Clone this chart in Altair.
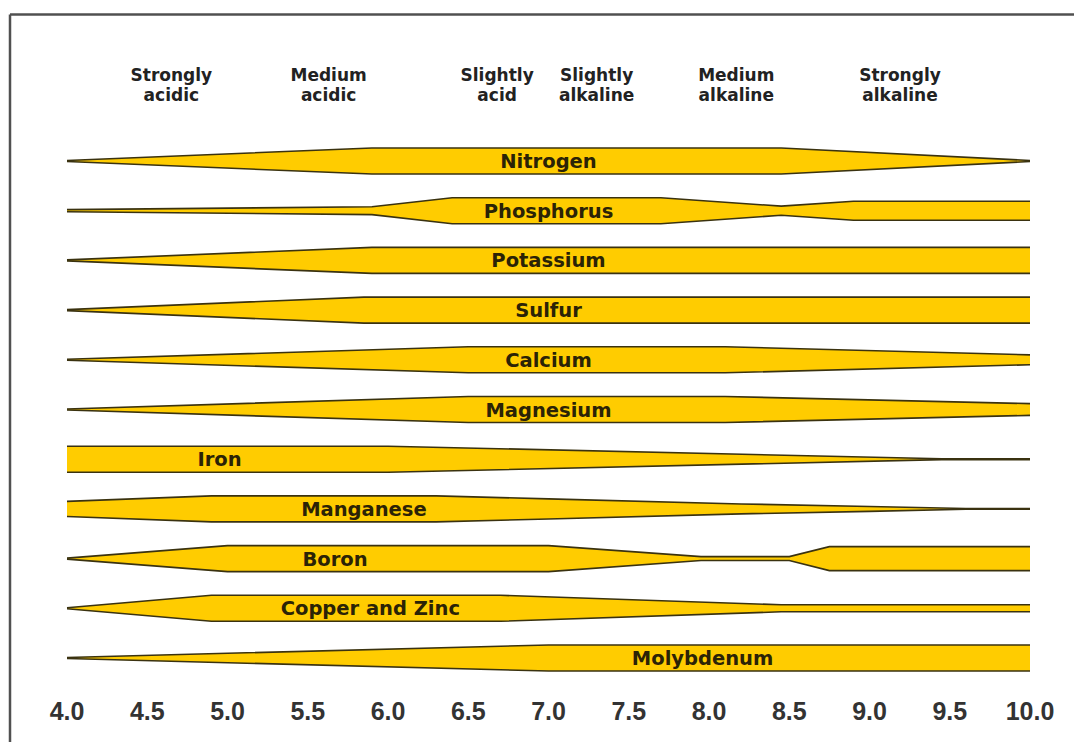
import altair as alt
import pandas as pd

# ---------------- data ----------------
nutrients = ["Nitrogen", "Phosphorus", "Potassium", "Sulfur", "Calcium", "Magnesium",
             "Iron", "Manganese", "Boron", "Copper and Zinc", "Molybdenum"]

# availability profile of each nutrient: pH breakpoints and relative band width (1 = most available)
profile_ph = [
    [4.0, 5.9, 8.45, 10.0],                        # Nitrogen
    [4.0, 5.9, 6.4, 7.7, 8.45, 8.9, 10.0],         # Phosphorus
    [4.0, 5.9, 10.0],                              # Potassium
    [4.0, 5.85, 10.0],                             # Sulfur
    [4.0, 6.5, 8.1, 10.0],                         # Calcium
    [4.0, 6.5, 8.1, 10.0],                         # Magnesium
    [4.0, 6.0, 9.45, 10.0],                        # Iron
    [4.0, 4.9, 6.3, 7.0, 8.2, 9.0, 9.6, 10.0],     # Manganese
    [4.0, 5.0, 7.0, 7.95, 8.5, 8.75, 10.0],        # Boron
    [4.0, 4.9, 6.7, 8.45, 10.0],                   # Copper and Zinc
    [4.0, 7.0, 10.0],                              # Molybdenum
]
profile_w = [
    [0.04, 1.0, 1.0, 0.04],
    [0.08, 0.3, 1.0, 1.0, 0.35, 0.73, 0.73],
    [0.04, 1.0, 1.0],
    [0.04, 1.0, 1.0],
    [0.04, 1.0, 1.0, 0.38],
    [0.04, 1.0, 1.0, 0.45],
    [1.0, 1.0, 0.03, 0.03],
    [0.58, 1.0, 1.0, 0.77, 0.38, 0.19, 0.03, 0.03],
    [0.04, 1.0, 1.0, 0.15, 0.15, 0.92, 0.92],
    [0.04, 1.0, 1.0, 0.27, 0.27],
    [0.04, 1.0, 1.0],
]
label_ph = [7.0, 7.0, 7.0, 7.0, 7.0, 7.0, 4.95, 5.85, 5.67, 5.89, 7.96]

zone_line1 = ["Strongly", "Medium", "Slightly", "Slightly", "Medium", "Strongly"]
zone_line2 = ["acidic", "acidic", "acid", "alkaline", "alkaline", "alkaline"]
zone_ph = [4.65, 5.63, 6.68, 7.3, 8.17, 9.19]

ph_ticks = [4.0, 4.5, 5.0, 5.5, 6.0, 6.5, 7.0, 7.5, 8.0, 8.5, 9.0, 9.5, 10.0]

# ---------------- tables ----------------
HALF = 0.262  # half band thickness in row units at full availability
rows = []
for i, name in enumerate(nutrients):
    for ph, w in zip(profile_ph[i], profile_w[i]):
        rows.append({"nutrient": name, "ph": ph, "lo": i - HALF * w, "hi": i + HALF * w})
bands = pd.DataFrame(rows)
edges = bands.melt(id_vars=["nutrient", "ph"], value_vars=["lo", "hi"],
                   var_name="edge", value_name="yv")
edges["key"] = edges["nutrient"] + "-" + edges["edge"]

labels = pd.DataFrame({"nutrient": nutrients, "ph": label_ph, "row": list(range(len(nutrients)))})
zones = pd.DataFrame({"l1": zone_line1, "l2": zone_line2, "ph": zone_ph})
ticks = pd.DataFrame({"ph": ph_ticks})
dummy = pd.DataFrame({"a": [0]})

W, H = 1066, 734
xs = alt.Scale(domain=[4, 10], range=[59, 1022], zero=False, nice=False)
ys = alt.Scale(domain=[0, 10], range=[153, 650], zero=False, nice=False)

fill = "#FFCC00"
edge_col = "#3a3210"

area = alt.Chart(bands).mark_area(color=fill, opacity=1).encode(
    x=alt.X("ph:Q", scale=xs, axis=None),
    y=alt.Y("lo:Q", scale=ys, axis=None, stack=None),
    y2="hi:Q",
    detail="nutrient:N",
)

lines = alt.Chart(edges).mark_line(color=edge_col, strokeWidth=1.6).encode(
    x=alt.X("ph:Q", scale=xs, axis=None),
    y=alt.Y("yv:Q", scale=ys, axis=None),
    detail="key:N",
)

ntext = alt.Chart(labels).mark_text(
    font="DejaVu Sans", fontWeight="bold", fontSize=19.5, color="#2b2306",
    baseline="middle", align="center", dy=1,
).encode(
    x=alt.X("ph:Q", scale=xs, axis=None),
    y=alt.Y("row:Q", scale=ys, axis=None),
    text="nutrient:N",
)

zt1 = alt.Chart(zones).mark_text(
    font="DejaVu Sans", fontWeight="bold", fontSize=17, color="#222222",
    baseline="alphabetic", align="center",
).encode(x=alt.X("ph:Q", scale=xs, axis=None), y=alt.value(73), text="l1:N")

zt2 = alt.Chart(zones).mark_text(
    font="DejaVu Sans", fontWeight="bold", fontSize=17, color="#222222",
    baseline="alphabetic", align="center",
).encode(x=alt.X("ph:Q", scale=xs, axis=None), y=alt.value(93), text="l2:N")

tlab = alt.Chart(ticks).mark_text(
    font="Liberation Sans", fontWeight="bold", fontSize=25, color="#333333",
    baseline="middle", align="center",
).encode(
    x=alt.X("ph:Q", scale=xs, axis=None),
    y=alt.value(704),
    text=alt.Text("ph:Q", format=".1f"),
)

frame_top = alt.Chart(dummy).mark_rule(color="#505050", strokeWidth=2.5).encode(
    x=alt.value(2), x2=alt.value(W), y=alt.value(6.5)
)
frame_left = alt.Chart(dummy).mark_rule(color="#505050", strokeWidth=2.5).encode(
    x=alt.value(2), y=alt.value(6.5), y2=alt.value(H)
)

chart = alt.layer(
    frame_top, frame_left, area, lines, ntext, zt1, zt2, tlab
).properties(
    width=W, height=H, padding=0,
    autosize=alt.AutoSizeParams(type="none"),
    background="white",
).configure_view(stroke=None)

chart.save("out.html", embed_options={"renderer": "svg", "actions": False})
